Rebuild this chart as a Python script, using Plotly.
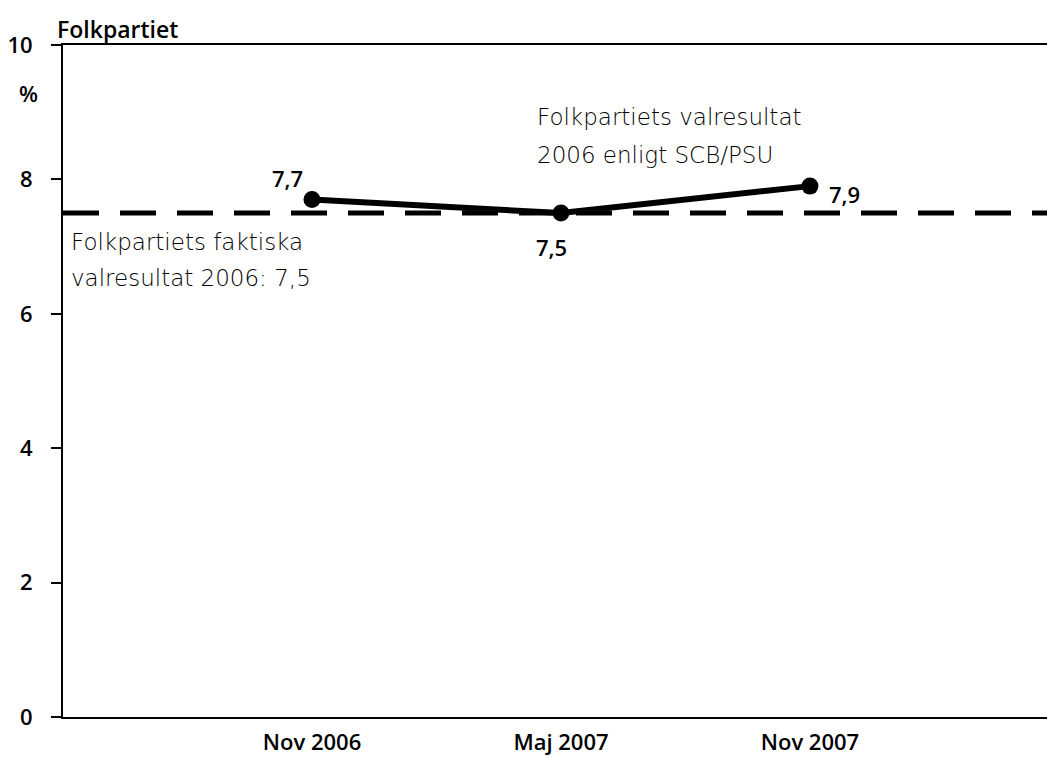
import plotly.graph_objects as go

categories = ["Nov 2006", "Maj 2007", "Nov 2007"]
values = [7.7, 7.5, 7.9]
actual_result = 7.5
y_ticks = [0, 2, 4, 6, 8, 10]
x_pos = [1, 2, 3]

labels = [f"{v:.1f}".replace(".", ",") for v in values]
label_shift = [(-24, 22), (-9, -34), (35, -8)]

FONT = "Open Sans"
BOLD = dict(family=FONT, color="black", weight=600)
LIGHT = dict(family="DejaVu Sans", color="black", weight=200, size=23)

fig = go.Figure()

fig.add_shape(type="line", xref="paper", yref="y", x0=0, x1=1,
              y0=actual_result, y1=actual_result,
              line=dict(color="black", width=5, dash="36px,21px"))

fig.add_trace(go.Scatter(
    x=x_pos, y=values, mode="lines+markers",
    line=dict(color="black", width=6),
    marker=dict(color="black", size=17),
    showlegend=False, cliponaxis=False, hoverinfo="skip",
))

for xp, v, lab, (dx, dy) in zip(x_pos, values, labels, label_shift):
    fig.add_annotation(x=xp, y=v, text=lab, showarrow=False,
                       xshift=dx, yshift=dy,
                       font=dict(**BOLD, size=22))

fig.update_layout(
    width=1047, height=758,
    margin=dict(l=63, r=0, t=45, b=41),
    paper_bgcolor="white", plot_bgcolor="white",
    font=dict(family=FONT, color="black"),
    xaxis=dict(range=[0, 3.952], tickvals=x_pos, ticktext=categories,
               showline=True, linecolor="black", linewidth=2, mirror=True,
               showgrid=False, zeroline=False, ticks="", automargin=False,
               ticklabelstandoff=5,
               tickfont=dict(**BOLD, size=22)),
    yaxis=dict(range=[0, 10], tickvals=y_ticks, automargin=False,
               showline=True, linecolor="black", linewidth=2,
               showgrid=False, zeroline=False, ticks="outside", ticklen=10,
               tickcolor="black", tickwidth=1.5, ticklabelstandoff=14,
               tickfont=dict(**BOLD, size=22)),
)

fig.add_annotation(text="Folkpartiet", xref="paper", yref="paper",
                   x=-0.008, y=1.0, xanchor="left", yanchor="middle",
                   yshift=16, showarrow=False,
                   font=dict(**BOLD, size=23))
fig.add_annotation(text="%", xref="paper", yref="paper",
                   x=-0.023, y=0.929, xanchor="right", yanchor="middle",
                   showarrow=False,
                   font=dict(**BOLD, size=22))

fig.add_annotation(text="Folkpartiets faktiska", xref="paper", yref="paper",
                   x=0.006, y=(717 - 242) / 672, xanchor="left", yanchor="middle",
                   showarrow=False, font=LIGHT)
fig.add_annotation(text="valresultat 2006: 7,5", xref="paper", yref="paper",
                   x=0.006, y=(717 - 278) / 672, xanchor="left", yanchor="middle",
                   showarrow=False, font=LIGHT)
fig.add_annotation(text="Folkpartiets valresultat", xref="paper", yref="paper",
                   x=(535 - 63) / 984, y=(717 - 117) / 672, xanchor="left", yanchor="middle",
                   showarrow=False, font=LIGHT)
fig.add_annotation(text="2006 enligt SCB/PSU", xref="paper", yref="paper",
                   x=(535 - 63) / 984, y=(717 - 155) / 672, xanchor="left", yanchor="middle",
                   showarrow=False, font=LIGHT)

fig.write_html("out.html", config={"displayModeBar": False},
               post_script="document.body.style.margin='0';")
